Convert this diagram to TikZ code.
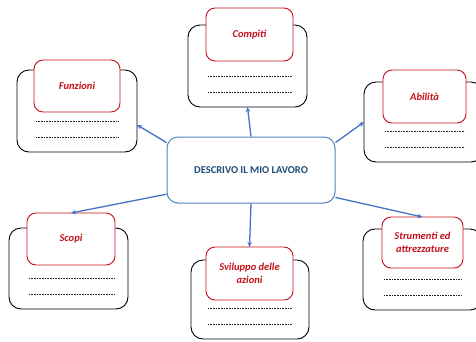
\documentclass[tikz,border=0pt]{standalone}
\usepackage{fontspec}
\setmainfont{Carlito}[Extension=.ttf, UprightFont=*-Regular, BoldFont=*-Bold,
  ItalicFont=*-Italic, BoldItalicFont=*-BoldItalic]
\usepackage{tikz}
\usetikzlibrary{arrows.meta,calc}

\definecolor{rosso}{RGB}{196,16,26}
\definecolor{blufreccia}{RGB}{68,114,196}
\definecolor{bordoblu}{RGB}{84,130,190}
\definecolor{testoblu}{RGB}{31,78,121}

\begin{document}
\begin{tikzpicture}[x=1pt,y=-1pt,
    scatola/.style={draw=black, line width=0.9pt, rounded corners=12pt, inner sep=0pt, outer sep=0pt},
    etichetta/.style={draw=rosso, fill=white, line width=0.9pt, rounded corners=9pt, inner sep=0pt, outer sep=0pt,
      text=rosso, font=\fontsize{10.5}{13}\selectfont\bfseries\itshape, align=center},
    puntini/.style={black!85, line width=0.8pt, dash pattern=on 0.7pt off 0.9pt},
    freccia/.style={draw=blufreccia, line width=1.3pt, -{Stealth[length=5pt,width=4.5pt]}}]
      \clip (0,0) rectangle (476,341);
      \useasboundingbox (0,0) rectangle (476,341);
      % scatole nere
      \node[scatola, minimum width=120pt, minimum height=82pt] (b-funz) at (77,111) {};
      \node[scatola, minimum width=119pt, minimum height=82pt] (b-comp) at (247.5,66) {};
      \node[scatola, minimum width=119pt, minimum height=80pt] (b-abil) at (423.5,122) {};
      \node[scatola, minimum width=119pt, minimum height=81pt] (b-scop) at (68.5,268.5) {};
      \node[scatola, minimum width=118pt, minimum height=79pt] (b-svil) at (250,299.5) {};
      \node[scatola, minimum width=119pt, minimum height=81pt] (b-strum) at (422.5,269.5) {};
      % etichette rosse
      \node[etichetta, minimum width=86pt, minimum height=52pt] (r-funz) at (77,86) {Funzioni};
      \node[etichetta, minimum width=87pt, minimum height=53pt] (r-comp) at (249.5,34.5) {Compiti};
      \node[etichetta, minimum width=83pt, minimum height=53pt] (r-abil) at (424.5,96.5) {Abilità};
      \node[etichetta, minimum width=88pt, minimum height=52pt] (r-scop) at (71,239) {Scopi};
      \node[etichetta, minimum width=87pt, minimum height=53pt] (r-svil) at (249.5,273.5) {Sviluppo delle\\azioni};
      \node[etichetta, minimum width=81pt, minimum height=51pt] (r-strum) at (422.5,242.5) {Strumenti ed\\attrezzature};
      % righe da compilare
      \foreach \n in {funz,comp,abil,scop,svil,strum}{
        \draw[puntini] ($(r-\n.west |- b-\n.south)+(2,-31)$) -- ($(r-\n.east |- b-\n.south)+(-1,-31)$);
        \draw[puntini] ($(r-\n.west |- b-\n.south)+(2,-15)$) -- ($(r-\n.east |- b-\n.south)+(-1,-15)$);
      }
      % centro
      \node[draw=bordoblu, line width=1pt, rounded corners=11pt, fill=white, minimum width=168pt, minimum height=66pt,
        inner sep=0pt, text=testoblu, font=\fontsize{10.5}{12}\selectfont\bfseries] (centro) at (251,170) {DESCRIVO IL MIO LAVORO};
      % frecce
      \draw[freccia] (centro.162) -- (b-funz.347);
      \draw[freccia] (centro.north) -- (b-comp.south);
      \draw[freccia] (centro.18) -- (b-abil.west);
      \draw[freccia] (centro.196) -- (r-scop.north);
      \draw[freccia] (centro.south) -- (r-svil.north);
      \draw[freccia] (centro.342) -- (r-strum.north);
    \end{tikzpicture}
\end{document}
